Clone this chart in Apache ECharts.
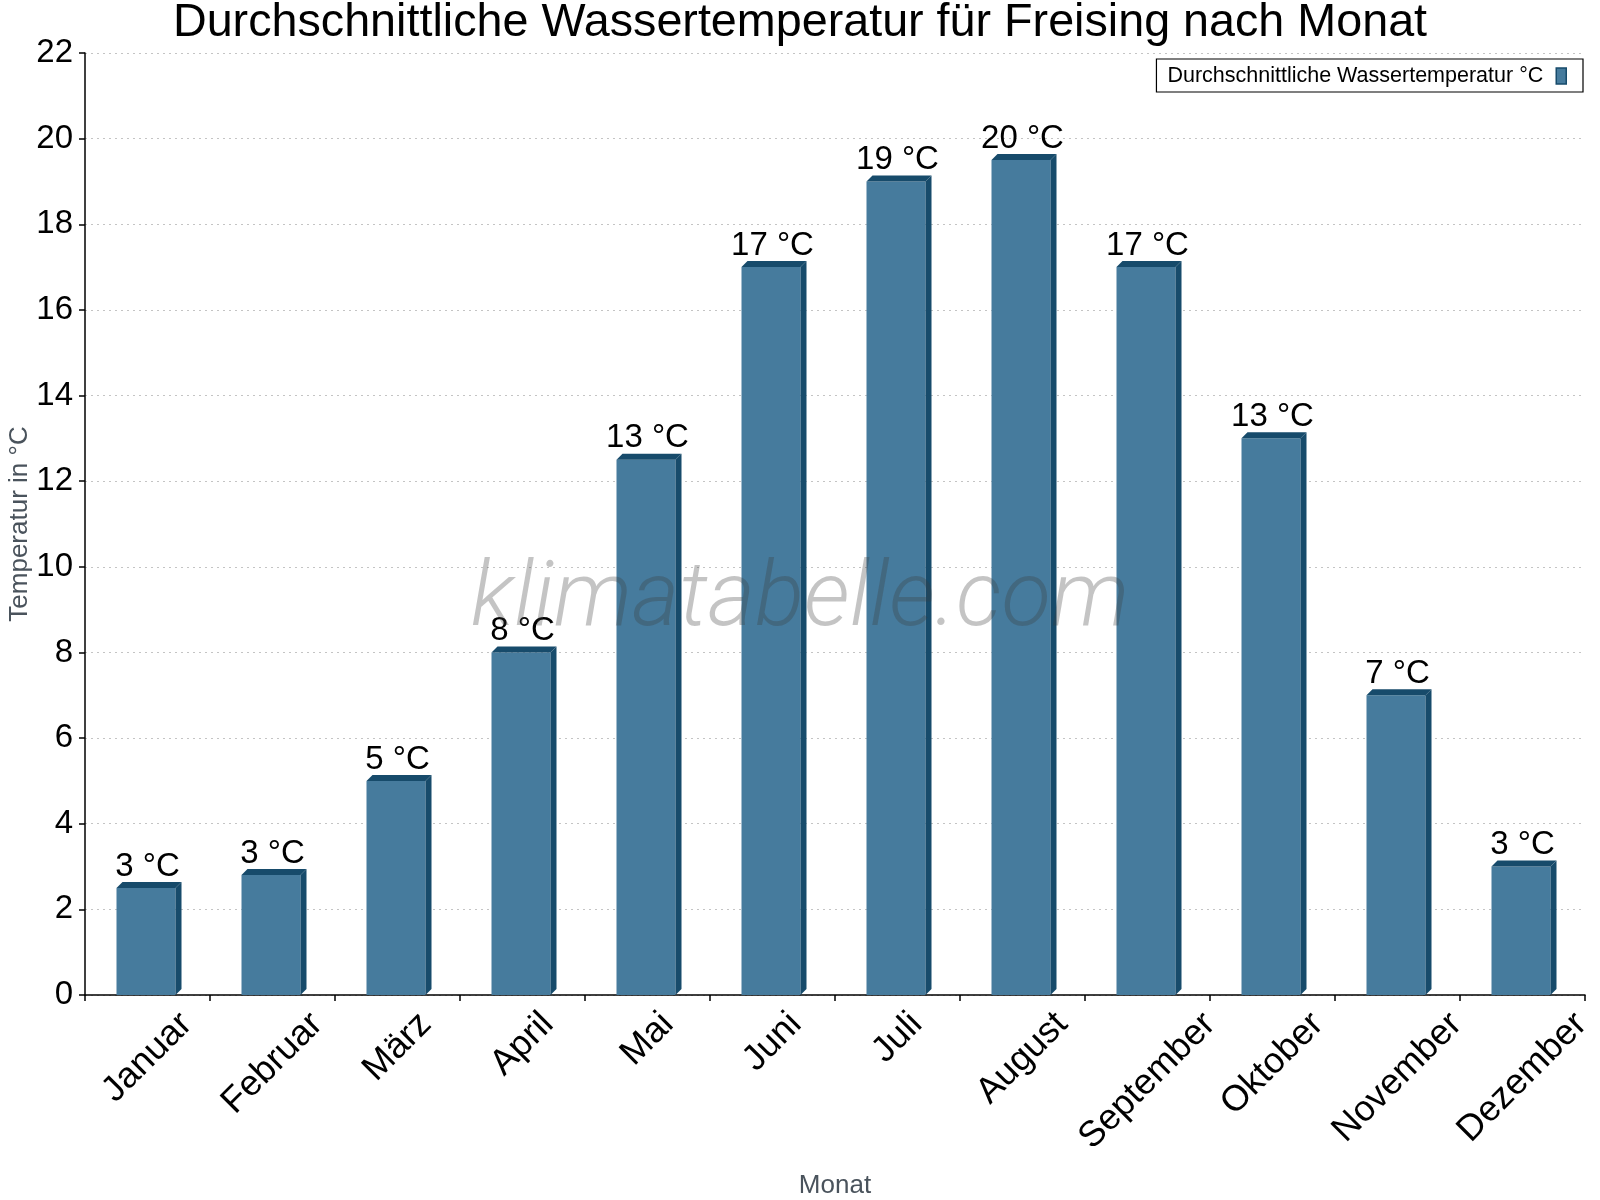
<!DOCTYPE html>
<html>
<head>
<meta charset="utf-8">
<script src="https://cdn.jsdelivr.net/npm/echarts@6/dist/echarts.min.js"></script>
<style>html,body{margin:0;padding:0;background:#fff}#c{width:1600px;height:1200px}</style>
</head>
<body>
<div id="c"></div>
<script>
const titleText = 'Durchschnittliche Wassertemperatur für Freising nach Monat';
const months = ['Januar','Februar','März','April','Mai','Juni','Juli','August','September','Oktober','November','Dezember'];
const waterTemp = [2.5, 2.8, 5, 8, 12.5, 17, 19, 19.5, 17, 13, 7, 3];
const seriesName = 'Durchschnittliche Wassertemperatur °C';
const yTicks = {min: 0, max: 22, interval: 2};

const FONT = '"Liberation Sans", Arial, sans-serif';
const FRONT = '#467b9d';
const DARK = '#174b6b';
const LABEL_PX = 33;
const MONTH_PX = 36;

// measure month label widths (for centring the rotated labels under each category)
const cv = document.createElement('canvas').getContext('2d');
cv.font = MONTH_PX + 'px "Liberation Sans"';
const labelTopGap = 11; // distance from axis line to top of rotated label box

const chart = echarts.init(document.getElementById('c'), null, {renderer: 'canvas'});
const depth = 6;

chart.setOption({
  backgroundColor: '#fff',
  animation: false,
  title: {
    text: titleText, left: 'center', top: 0, padding: 0,
    textStyle: {fontFamily: FONT, fontSize: 46.7, fontWeight: 'normal', color: '#000'}
  },
  legend: {
    right: 17, top: 59, align: 'right', orient: 'horizontal',
    backgroundColor: '#fff', borderColor: '#000', borderWidth: 1.2,
    padding: [6, 16, 5, 11],
    itemWidth: 10, itemHeight: 16,
    textStyle: {fontFamily: FONT, fontSize: 21.5, color: '#000', padding: [0, 8, 0, 0]},
    data: [{name: seriesName, icon: 'rect', itemStyle: {color: FRONT, borderColor: DARK, borderWidth: 1.5}}]
  },
  grid: {left: 85, right: 15, top: 53, bottom: 205, containLabel: false, outerBoundsMode: 'none'},
  xAxis: {
    type: 'category', data: months, boundaryGap: true,
    name: 'Monat', nameLocation: 'middle', nameGap: 178, nameMoveOverlap: false,
    nameTextStyle: {fontFamily: FONT, fontSize: 26, color: '#4a535c'},
    axisLine: {lineStyle: {color: '#000', width: 1.5}},
    axisTick: {show: true, length: 6, alignWithLabel: false, lineStyle: {color: '#000', width: 1.5}},
    axisLabel: {show: false},
    splitLine: {show: false}
  },
  yAxis: {
    type: 'value', min: yTicks.min, max: yTicks.max, interval: yTicks.interval,
    name: 'Temperatur in °C', nameLocation: 'middle', nameGap: 52, nameRotate: 90, nameMoveOverlap: false,
    nameTextStyle: {fontFamily: FONT, fontSize: 26, color: '#4a535c'},
    axisLine: {show: true, lineStyle: {color: '#000', width: 1.5}},
    axisTick: {show: true, length: 6, lineStyle: {color: '#000', width: 1.5}},
    axisLabel: {margin: 12, fontFamily: FONT, fontSize: 33, color: '#000'},
    splitLine: {show: true, lineStyle: {color: '#c4c4c4', width: 1, type: [2, 4]}}
  },
  series: [{
    type: 'custom',
    name: seriesName,
    clip: false,
    itemStyle: {color: FRONT},
    data: waterTemp.map((v, i) => [i, v]),
    renderItem: function (params, api) {
      const i = api.value(0), v = api.value(1);
      const top = api.coord([i, v]);
      const base = api.coord([i, 0]);
      const bw = api.size([1, 0])[0];
      const fw = bw * 0.472;
      const x0 = top[0] - fw / 2 - 1.5, x1 = x0 + fw;
      const y0 = top[1], yb = base[1];
      const m = months[i];
      const w = cv.measureText(m).width;
      const cy = yb + labelTopGap + (w + MONTH_PX) * 0.3536;
      return {
        type: 'group',
        children: [
          {type: 'rect', shape: {x: x0, y: y0, width: fw, height: yb - y0}, style: {fill: FRONT}},
          {type: 'polygon', shape: {points: [[x0, y0], [x0 + depth, y0 - depth], [x1 + depth, y0 - depth], [x1, y0]]}, style: {fill: DARK}},
          {type: 'polygon', shape: {points: [[x1, y0], [x1 + depth, y0 - depth], [x1 + depth, yb - depth], [x1, yb]]}, style: {fill: DARK}},
          {type: 'text', style: {text: Math.round(v) + ' °C', x: top[0], y: y0 - depth + 1,
            align: 'center', verticalAlign: 'bottom', fill: '#000', font: LABEL_PX + 'px ' + FONT}},
          {type: 'text', x: base[0], y: cy, rotation: Math.PI / 4,
            style: {text: m, x: 0, y: 0, align: 'center', verticalAlign: 'middle', fill: '#000',
              font: MONTH_PX + 'px ' + FONT}}
        ]
      };
    }
  }],
  graphic: [{
    type: 'text', z: 100, silent: true,
    style: {text: 'klimatabelle.com', x: 800, y: 602, align: 'center', verticalAlign: 'middle',
      fill: 'rgba(60,60,60,0.3)', font: 'italic 300 91px Roboto'}
  }]
});
</script>
</body>
</html>
